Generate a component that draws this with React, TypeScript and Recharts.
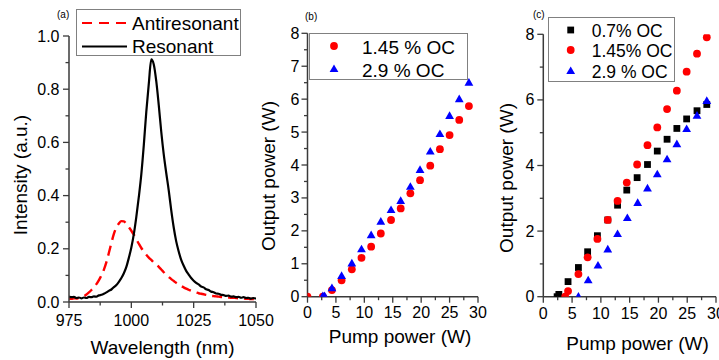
import React from 'react';
import { LineChart, Line, ScatterChart, Scatter, XAxis, YAxis, Legend } from 'recharts';

const FONT = '"Liberation Sans", Arial, sans-serif';
const AXIS = '#3a3a3a';
const RED = '#ff0000';
const BLUE = '#0000ff';

// (a) spectra, 1 nm grid
const wavelength = [
  975, 976, 977, 978, 979, 980, 981, 982, 983, 984,
  985, 986, 987, 988, 989, 990, 991, 992, 993, 994,
  995, 996, 997, 998, 999, 1000, 1001, 1002, 1003, 1004,
  1005, 1006, 1007, 1008, 1009, 1010, 1011, 1012, 1013, 1014,
  1015, 1016, 1017, 1018, 1019, 1020, 1021, 1022, 1023, 1024,
  1025, 1026, 1027, 1028, 1029, 1030, 1031, 1032, 1033, 1034,
  1035, 1036, 1037, 1038, 1039, 1040, 1041, 1042, 1043, 1044,
  1045, 1046, 1047, 1048, 1049, 1050,
];
const antiresonant = [
  0.013, 0.012, 0.014, 0.013, 0.016, 0.018, 0.022, 0.028, 0.036, 0.045,
  0.055, 0.067, 0.082, 0.100, 0.122, 0.150, 0.185, 0.222, 0.256, 0.280,
  0.295, 0.304, 0.303, 0.293, 0.281, 0.268, 0.253, 0.236, 0.219, 0.203,
  0.190, 0.178, 0.167, 0.158, 0.149, 0.141, 0.132, 0.122, 0.112, 0.102,
  0.094, 0.086, 0.079, 0.072, 0.066, 0.060, 0.055, 0.050, 0.046, 0.042,
  0.039, 0.036, 0.033, 0.031, 0.029, 0.027, 0.025, 0.023, 0.022, 0.021,
  0.020, 0.019, 0.018, 0.018, 0.017, 0.016, 0.016, 0.015, 0.014, 0.014,
  0.013, 0.012, 0.012, 0.011, 0.011, 0.010,
];
const resonant = [
  0.021, 0.018, 0.019, 0.015, 0.017, 0.014, 0.017, 0.015, 0.019, 0.018,
  0.021, 0.020, 0.025, 0.027, 0.031, 0.036, 0.042, 0.047, 0.056, 0.064,
  0.076, 0.090, 0.108, 0.132, 0.166, 0.205, 0.255, 0.320, 0.395, 0.480,
  0.590, 0.715, 0.820, 0.912, 0.893, 0.830, 0.740, 0.640, 0.555, 0.485,
  0.420, 0.345, 0.280, 0.228, 0.190, 0.158, 0.136, 0.117, 0.103, 0.090,
  0.080, 0.072, 0.066, 0.058, 0.055, 0.048, 0.045, 0.039, 0.037, 0.032,
  0.031, 0.027, 0.026, 0.023, 0.024, 0.020, 0.021, 0.018, 0.019, 0.016,
  0.018, 0.015, 0.016, 0.013, 0.015, 0.012,
];

// (b) output vs pump
const pumpB145 = [0, 2.7, 4.3, 6.0, 7.8, 9.5, 11.2, 12.9, 14.7, 16.4, 18.1, 19.8, 21.6, 23.3, 25.0, 26.7, 28.4];
const outB145 = [0, 0, 0.2, 0.5, 0.83, 1.18, 1.52, 1.92, 2.33, 2.68, 3.14, 3.54, 3.98, 4.48, 4.91, 5.37, 5.79];
const pumpB29 = [2.7, 3.0, 4.3, 6.0, 7.8, 9.5, 11.2, 12.9, 14.7, 16.4, 18.1, 19.8, 21.6, 23.3, 25.0, 26.7, 28.4];
const outB29 = [0.02, 0.02, 0.26, 0.63, 1.01, 1.44, 1.87, 2.28, 2.63, 2.91, 3.34, 3.85, 4.41, 4.94, 5.49, 6.0, 6.5];

// (c) output vs pump
const pumpC07 = [2.4, 2.7, 4.3, 6.1, 7.7, 9.4, 11.2, 12.9, 14.5, 16.3, 18.1, 19.8, 21.5, 23.2, 24.9, 26.7, 28.4];
const outC07 = [0, 0.07, 0.46, 0.89, 1.37, 1.86, 2.34, 2.79, 3.25, 3.63, 4.03, 4.44, 4.80, 5.13, 5.42, 5.67, 5.86];
const pumpC145 = [3.8, 4.3, 6.1, 7.7, 9.4, 11.2, 12.9, 14.5, 16.3, 18.1, 19.8, 21.5, 23.2, 24.9, 26.7, 28.4];
const outC145 = [0, 0.17, 0.69, 1.20, 1.76, 2.34, 2.92, 3.48, 4.03, 4.62, 5.16, 5.72, 6.28, 6.86, 7.41, 7.91];
const pumpC29 = [6.1, 7.8, 9.5, 11.2, 12.9, 14.6, 16.4, 18.1, 19.8, 21.5, 23.2, 24.9, 26.7, 28.4];
const outC29 = [0, 0.5, 0.95, 1.44, 1.91, 2.40, 2.86, 3.30, 3.73, 4.19, 4.65, 5.11, 5.52, 5.97];

// ticks (all = majors + minors)
const wlTicks = [975, 987.5, 1000, 1012.5, 1025, 1037.5, 1050];
const wlMajor = [975, 1000, 1025, 1050];
const intTicks = [0, 0.1, 0.2, 0.3, 0.4, 0.5, 0.6, 0.7, 0.8, 0.9, 1.0];
const intMajor = [0, 0.2, 0.4, 0.6, 0.8, 1.0];
const pumpTicks = [0, 2.5, 5, 7.5, 10, 12.5, 15, 17.5, 20, 22.5, 25, 27.5, 30];
const pumpMajor = [0, 5, 10, 15, 20, 25, 30];
const outBTicks = [0, 0.5, 1, 1.5, 2, 2.5, 3, 3.5, 4, 4.5, 5, 5.5, 6, 6.5, 7, 7.5, 8];
const outBMajor = [0, 1, 2, 3, 4, 5, 6, 7, 8];
const outCTicks = [0, 1, 2, 3, 4, 5, 6, 7, 8];
const outCMajor = [0, 2, 4, 6, 8];

const zip = (xs: number[], ys: number[]) => xs.map((x, i) => ({ x, y: ys[i] }));

const TICK_SIZE = 6;
const TICK_MARGIN = 2;
const isIn = (v: number, list: number[]) => list.some((m) => Math.abs(m - v) < 1e-6);

function makeXTick(majors: number[], fmt: (v: number) => string, baseDy: number) {
  return (props: any) => {
    const { x, y, payload } = props;
    const axisY = y - TICK_SIZE - TICK_MARGIN;
    const major = isIn(payload.value, majors);
    return (
      <g>
        <line x1={x} x2={x} y1={axisY} y2={axisY + (major ? 6 : 3.5)} stroke={AXIS} strokeWidth={1.3} />
        {major && (
          <text x={x} y={axisY + baseDy} textAnchor="middle" fontSize={16} fill="#000" fontFamily={FONT}>
            {fmt(payload.value)}
          </text>
        )}
      </g>
    );
  };
}

function makeYTick(majors: number[], fmt: (v: number) => string, gap: number) {
  return (props: any) => {
    const { x, y, payload } = props;
    const axisX = x + TICK_SIZE + TICK_MARGIN;
    const major = isIn(payload.value, majors);
    return (
      <g>
        <line x1={axisX - (major ? 6 : 3.5)} x2={axisX} y1={y} y2={y} stroke={AXIS} strokeWidth={1.3} />
        {major && (
          <text x={axisX - gap} y={y + 5.5} textAnchor="end" fontSize={16} fill="#000" fontFamily={FONT}>
            {fmt(payload.value)}
          </text>
        )}
      </g>
    );
  };
}

const xTitle = (value: string, x: number, y: number) => () => (
  <text x={x} y={y} textAnchor="middle" fontSize={19} fill="#000" fontFamily={FONT}>{value}</text>
);
const yTitle = (value: string, x: number, y: number) => () => (
  <text x={x} y={y} textAnchor="middle" dominantBaseline="central" fontSize={19} fill="#000"
    fontFamily={FONT} transform={`rotate(-90 ${x} ${y})`}>{value}</text>
);

const Dot = (p: any) => <circle cx={p.cx} cy={p.cy} r={3.9} fill={RED} />;
const Tri = (p: any) => (
  <path d={`M${p.cx},${p.cy - 4.6} L${p.cx + 4.4},${p.cy + 3} L${p.cx - 4.4},${p.cy + 3} Z`} fill={BLUE} />
);
const Sq = (p: any) => <rect x={p.cx - 3.4} y={p.cy - 3.4} width={6.8} height={6.8} fill="#000" />;

const legendText = { fontSize: 19, fill: '#000', fontFamily: FONT } as const;
const legendTextC = { fontSize: 17.5, fill: '#000', fontFamily: FONT } as const;

function LegendA() {
  return (
    <svg width={165} height={47} style={{ display: 'block' }}>
      <rect x={0.5} y={0.5} width={164} height={46} fill="#fff" stroke="#808080" />
      <line x1={6} x2={51} y1={14} y2={14} stroke={RED} strokeWidth={2.2} strokeDasharray="10 7" />
      <text x={56} y={20.8} {...legendText}>Antiresonant</text>
      <line x1={6} x2={51} y1={37.5} y2={37.5} stroke="#000" strokeWidth={2.2} />
      <text x={56} y={44} {...legendText}>Resonant</text>
    </svg>
  );
}

function LegendB() {
  return (
    <svg width={159} height={47} style={{ display: 'block' }}>
      <rect x={0.5} y={0.5} width={158} height={46} fill="#fff" stroke="#808080" />
      <Dot cx={25} cy={13} />
      <text x={53} y={20.5} {...legendText}>1.45 % OC</text>
      <Tri cx={25} cy={36} />
      <text x={53} y={43.5} {...legendText}>2.9 % OC</text>
    </svg>
  );
}

function LegendC() {
  return (
    <svg width={127} height={65} style={{ display: 'block' }}>
      <rect x={0.5} y={0.5} width={126} height={64} fill="#fff" stroke="#808080" />
      <Sq cx={22.7} cy={13} />
      <text x={43.7} y={20.2} {...legendTextC}>0.7% OC</text>
      <Dot cx={22.7} cy={33} />
      <text x={43.7} y={40.2} {...legendTextC}>1.45% OC</text>
      <Tri cx={22.7} cy={54} />
      <text x={43.7} y={61} {...legendTextC}>2.9 % OC</text>
    </svg>
  );
}

const axisLine = { stroke: AXIS, strokeWidth: 1.5 };
const int = (v: number) => String(v);

export default function App() {
  const antiData = zip(wavelength, antiresonant);
  const resData = zip(wavelength, resonant);

  return (
    <div style={{ position: 'absolute', left: 0, top: 0, width: 719, height: 360, background: '#fff', overflow: 'hidden', fontFamily: FONT }}>
      {/* (a) spectra */}
      <div style={{ position: 'absolute', left: 0, top: 0 }}>
        <LineChart width={285} height={360} margin={{ top: 36, right: 29, bottom: 0, left: 0 }}>
          <XAxis type="number" dataKey="x" domain={[975, 1050]} ticks={wlTicks} interval={0}
            height={58} axisLine={axisLine} tickLine={false} tickSize={TICK_SIZE} tickMargin={TICK_MARGIN}
            tick={makeXTick(wlMajor, int, 23.5)} label={xTitle('Wavelength (nm)', 162.5, 354)} allowDataOverflow />
          <YAxis type="number" domain={[0, 1]} ticks={intTicks} interval={0} width={69}
            axisLine={axisLine} tickLine={false} tickSize={TICK_SIZE} tickMargin={TICK_MARGIN}
            tick={makeYTick(intMajor, (v) => v.toFixed(1), 9.5)} label={yTitle('Intensity (a.u.)', 20.5, 175)} allowDataOverflow />
          <Legend layout="vertical" align="center" verticalAlign="middle" content={() => <LegendA />}
            wrapperStyle={{ left: 76, top: 9, width: 165, height: 47 }} />
          <Line data={antiData} dataKey="y" type="monotone" stroke={RED} strokeWidth={2.4}
            strokeDasharray="10 6" dot={false} isAnimationActive={false} name="Antiresonant" />
          <Line data={resData} dataKey="y" type="monotone" stroke="#000" strokeWidth={2.2}
            dot={false} isAnimationActive={false} name="Resonant" />
        </LineChart>
      </div>

      {/* (b) two couplers */}
      <div style={{ position: 'absolute', left: 240, top: 0 }}>
        <ScatterChart width={262} height={360} margin={{ top: 33.3, right: 24, bottom: 0, left: 0 }}>
          <XAxis type="number" dataKey="x" domain={[0, 30]} ticks={pumpTicks} interval={0}
            height={63.3} axisLine={axisLine} tickLine={false} tickSize={TICK_SIZE} tickMargin={TICK_MARGIN}
            tick={makeXTick(pumpMajor, int, 21.5)} label={xTitle('Pump power (W)', 160, 343)} allowDataOverflow />
          <YAxis type="number" dataKey="y" domain={[0, 8]} ticks={outBTicks} interval={0} width={67.5}
            axisLine={axisLine} tickLine={false} tickSize={TICK_SIZE} tickMargin={TICK_MARGIN}
            tick={makeYTick(outBMajor, int, 8)} label={yTitle('Output power (W)', 28.5, 176)} allowDataOverflow />
          <Legend layout="vertical" align="center" verticalAlign="middle" content={() => <LegendB />}
            wrapperStyle={{ left: 69, top: 33, width: 159, height: 47 }} />
          <Scatter data={zip(pumpB145, outB145)} shape={Dot} isAnimationActive={false} name="1.45 % OC" />
          <Scatter data={zip(pumpB29, outB29)} shape={Tri} isAnimationActive={false} name="2.9 % OC" />
        </ScatterChart>
      </div>

      {/* (c) three couplers */}
      <div style={{ position: 'absolute', left: 470, top: 0 }}>
        <ScatterChart width={249} height={360} margin={{ top: 34.3, right: 3, bottom: 0, left: 0 }}>
          <XAxis type="number" dataKey="x" domain={[0, 30]} ticks={pumpTicks} interval={0}
            height={63.3} axisLine={axisLine} tickLine={false} tickSize={TICK_SIZE} tickMargin={TICK_MARGIN}
            tick={makeXTick(pumpMajor, int, 22.3)} label={xTitle('Pump power (W)', 167.5, 350)} allowDataOverflow />
          <YAxis type="number" dataKey="y" domain={[0, 8]} ticks={outCTicks} interval={0} width={73.3}
            axisLine={axisLine} tickLine={false} tickSize={TICK_SIZE} tickMargin={TICK_MARGIN}
            tick={makeYTick(outCMajor, int, 9)} label={yTitle('Output power (W)', 36, 178)} allowDataOverflow />
          <Legend layout="vertical" align="center" verticalAlign="middle" content={() => <LegendC />}
            wrapperStyle={{ left: 78, top: 17, width: 127, height: 65 }} />
          <Scatter data={zip(pumpC07, outC07)} shape={Sq} isAnimationActive={false} name="0.7% OC" />
          <Scatter data={zip(pumpC145, outC145)} shape={Dot} isAnimationActive={false} name="1.45% OC" />
          <Scatter data={zip(pumpC29, outC29)} shape={Tri} isAnimationActive={false} name="2.9 % OC" />
        </ScatterChart>
      </div>

      <div style={{ position: 'absolute', left: 57, top: 9, fontSize: 10, color: '#000' }}>(a)</div>
      <div style={{ position: 'absolute', left: 305, top: 11, fontSize: 10, color: '#000' }}>(b)</div>
      <div style={{ position: 'absolute', left: 533, top: 9, fontSize: 10, color: '#000' }}>(c)</div>
    </div>
  );
}
